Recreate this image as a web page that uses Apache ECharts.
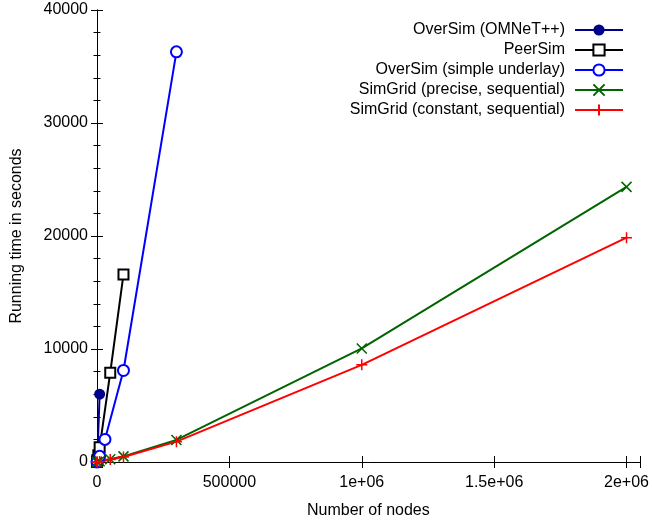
<!DOCTYPE html>
<html>
<head>
<meta charset="utf-8">
<script src="https://cdn.jsdelivr.net/npm/echarts@6/dist/echarts.min.js"></script>
<style>html,body{margin:0;padding:0;background:#fff}#c{width:652px;height:525px}</style>
</head>
<body>
<div id="c"></div>
<script>
var seriesNames = ['OverSim (OMNeT++)', 'PeerSim', 'OverSim (simple underlay)', 'SimGrid (precise, sequential)', 'SimGrid (constant, sequential)'];
var omnetData = [[100, 20], [1000, 200], [10000, 6000]];
var peersimData = [[100, 10], [1000, 150], [5000, 600], [10000, 1300], [50000, 7900], [100000, 16600]];
var simpleData = [[100, 5], [1000, 60], [10000, 500], [30000, 2000], [100000, 8100], [300000, 36300]];
var preciseData = [[100, 2], [1000, 10], [10000, 60], [50000, 250], [100000, 500], [300000, 1950], [1000000, 10050], [2000000, 24350]];
var constantData = [[100, 2], [1000, 10], [10000, 50], [50000, 220], [100000, 450], [300000, 1800], [1000000, 8600], [2000000, 19850]];
var xTickLabels = {0: '0', 500000: '500000', 1000000: '1e+06', 1500000: '1.5e+06', 2000000: '2e+06'};
var colors = ['#00008b', '#000000', '#0000ff', '#006400', '#ff0000'];

var font = 'Liberation Sans, Arial, sans-serif';
var chart = echarts.init(document.getElementById('c'));
function mk(i, data, symbol, size, kind) {
  var item;
  if (kind === 'fill') item = {color: colors[i]};
  else if (kind === 'empty') item = {color: colors[i], borderWidth: 1.5};
  else item = {color: 'rgba(0,0,0,0)', borderColor: colors[i], borderWidth: 1.5};
  return {
    name: seriesNames[i], type: 'line', data: data, xAxisIndex: 0, yAxisIndex: 0,
    symbol: symbol, symbolSize: size, showAllSymbol: true,
    lineStyle: {color: colors[i], width: 2},
    itemStyle: item,
    emphasis: {disabled: true}
  };
}
chart.setOption({
  animation: false,
  textStyle: {fontFamily: font},
  grid: {left: 97, right: 11.3, top: 10, bottom: 63},
  legend: {
    orient: 'vertical', right: 23, top: 17, align: 'right',
    itemWidth: 48, itemHeight: 14, itemGap: 4,
    textStyle: {fontSize: 16, color: '#000', fontFamily: font, padding: [0, 5, 0, 0]},
    data: seriesNames
  },
  xAxis: [{
    type: 'value', min: 0, max: 2050000, interval: 500000,
    name: 'Number of nodes', nameLocation: 'middle', nameGap: 41,
    nameTextStyle: {fontSize: 16, color: '#000', fontFamily: font},
    axisLine: {lineStyle: {color: '#000', width: 1}},
    axisTick: {inside: true, length: 6, lineStyle: {color: '#000'}},
    axisLabel: {fontSize: 16, color: '#000', margin: 13, fontFamily: font,
      formatter: function (v) { return xTickLabels[v] !== undefined ? xTickLabels[v] : ''; }},
    splitLine: {show: false}
  }, {
    type: 'value', position: 'top', min: 0, max: 2050000, interval: 500000,
    axisLine: {lineStyle: {color: '#000', width: 1}},
    axisTick: {inside: true, length: 6, lineStyle: {color: '#000'}},
    axisLabel: {show: false}, splitLine: {show: false}
  }],
  yAxis: [{
    type: 'value', min: 0, max: 40000, interval: 10000,
    name: 'Running time in seconds', nameLocation: 'middle', nameGap: 72,
    nameTextStyle: {fontSize: 16, color: '#000', fontFamily: font},
    axisLine: {show: true, lineStyle: {color: '#000', width: 1}},
    axisTick: {show: true, inside: true, length: 6, lineStyle: {color: '#000'}},
    minorTick: {show: true, splitNumber: 5, length: 3.5, lineStyle: {color: '#000'}},
    axisLabel: {fontSize: 16, color: '#000', margin: 9, fontFamily: font,
      formatter: function (v) { return String(v); }},
    splitLine: {show: false}
  }, {
    type: 'value', position: 'right', min: 0, max: 40000, interval: 10000,
    axisLine: {show: true, lineStyle: {color: '#000', width: 1}},
    axisTick: {show: true, inside: true, length: 6, lineStyle: {color: '#000'}},
    minorTick: {show: true, splitNumber: 5, length: 3.5, lineStyle: {color: '#000'}},
    axisLabel: {show: false}, splitLine: {show: false}
  }],
  series: [
    mk(0, omnetData, 'circle', 11, 'fill'),
    mk(1, peersimData, 'emptyRect', 10, 'empty'),
    mk(2, simpleData, 'emptyCircle', 11, 'empty'),
    mk(3, preciseData, 'path://M0,0L10,10M0,10L10,0', 10, 'path'),
    mk(4, constantData, 'path://M5,0L5,10M0,5L10,5', 11, 'path')
  ]
});
</script>
</body>
</html>
